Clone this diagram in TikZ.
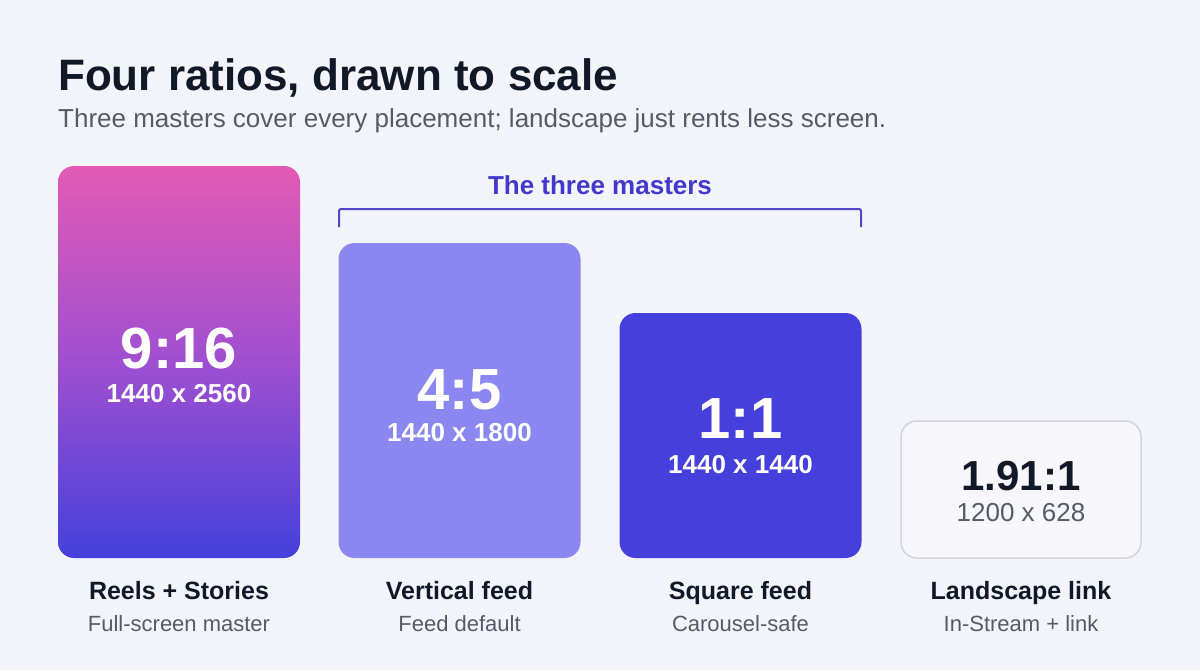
\documentclass[tikz,border=0pt]{standalone}
\usepackage{fontspec}
\setmainfont{Liberation Sans}
\begin{document}
\begin{tikzpicture}[x=1pt,y=-1pt,
  box/.style={rounded corners=16pt, minimum width=242pt, inner sep=0pt},
  big/.style={font=\fontsize{58}{60}\selectfont\bfseries, text=white, anchor=base},
  dim/.style={font=\fontsize{26}{28}\selectfont\bfseries, text=white, anchor=base},
  lab/.style={font=\fontsize{25}{27}\selectfont\bfseries, text=ink, anchor=base},
  sub/.style={font=\fontsize{22}{24}\selectfont, text=subgray, anchor=base}]
\definecolor{bg}{HTML}{F3F4FA}
\definecolor{ink}{HTML}{111827}
\definecolor{subgray}{HTML}{555B66}
\definecolor{pinktop}{HTML}{E35AB5}
\definecolor{purplemid}{HTML}{9F4FD0}
\definecolor{bluebot}{HTML}{4440DC}
\definecolor{lightpurple}{HTML}{8A87F0}
\definecolor{royal}{HTML}{4540DC}
\definecolor{brk}{HTML}{4F46C8}
\definecolor{brktext}{HTML}{4338CA}
\definecolor{cardfill}{HTML}{F7F7FB}
\definecolor{cardline}{HTML}{D4D4DC}
\fill[bg] (0,0) rectangle (1200,670);
\useasboundingbox (0,0) rectangle (1200,670);
% title
\node[anchor=base west, inner sep=0pt, font=\fontsize{44}{46}\selectfont\bfseries, text=ink] (title) at (58,90) {Four ratios, drawn to scale};
\node[anchor=base west, inner sep=0pt, font=\fontsize{26}{28}\selectfont, text=subgray] (subtitle) at (58,127) {Three masters cover every placement; landscape just rents less screen.};
% boxes
\node[box, minimum height=392pt, top color=pinktop, bottom color=bluebot, middle color=purplemid] (b1) at (179,362) {};
\node[box, minimum height=315pt, fill=lightpurple] (b2) at (459.5,400.5) {};
\node[box, minimum height=245pt, fill=royal] (b3) at (740.5,435.5) {};
\node[box, minimum width=240pt, minimum height=137pt, fill=cardfill, draw=cardline, line width=1.5pt] (b4) at (1021,489.5) {};
% box texts
\node[big] (r1) at (179,368) {9:16};
\node[dim] (d1) at (179,402) {1440 x 2560};
\node[big] (r2) at (459.5,409) {4:5};
\node[dim] (d2) at (459.5,441) {1440 x 1800};
\node[big] (r3) at (740.5,438) {1:1};
\node[dim] (d3) at (740.5,473) {1440 x 1440};
\node[big, text=ink, font=\fontsize{42}{44}\selectfont\bfseries] (r4) at (1021,490) {1.91:1};
\node[anchor=base, font=\fontsize{26}{28}\selectfont, text=subgray] (d4) at (1021,521) {1200 x 628};
% labels
\node[lab] (l1) at (179,599) {Reels + Stories};
\node[sub] (s1) at (179,631) {Full-screen master};
\node[lab] (l2) at (459.5,599) {Vertical feed};
\node[sub] (s2) at (459.5,631) {Feed default};
\node[lab] (l3) at (740.5,599) {Square feed};
\node[sub] (s3) at (740.5,631) {Carousel-safe};
\node[lab] (l4) at (1021,599) {Landscape link};
\node[sub] (s4) at (1021,631) {In-Stream + link};
% bracket
\coordinate (bl) at (339,227);
\coordinate (br) at (861,227);
\draw[brk, line width=2pt, rounded corners=2pt] (bl) -- ++(0,-18) -| (br);
\node[anchor=base, font=\fontsize{26}{28}\selectfont\bfseries, text=brktext] (bt) at (600,194) {The three masters};
\end{tikzpicture}
\end{document}
